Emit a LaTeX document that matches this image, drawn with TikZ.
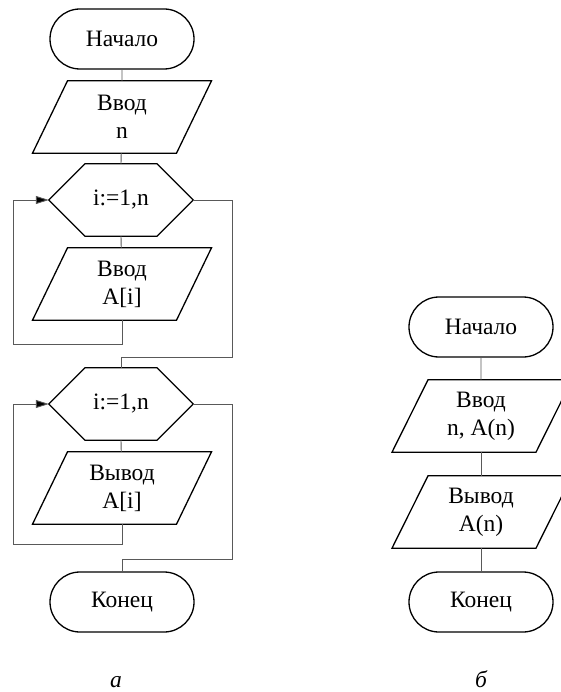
\documentclass[tikz,border=0pt]{standalone}
\usepackage{fontspec}
\setmainfont{Liberation Serif}
\usetikzlibrary{shapes.misc,arrows.meta}

\tikzset{
  outl/.style={draw=black, line width=1.3pt, line join=miter},
  conn/.style={draw=black!65, line width=0.9pt},
  loopin/.style={conn, -{Triangle[length=13pt,width=8pt,fill=black]}},
  txt/.style={font=\fontsize{23.5}{28}\selectfont, align=center, inner sep=0pt},
  terminal/.style={txt, outl, rounded rectangle, minimum width=144pt, minimum height=60pt},
  iobox/.style={txt, minimum width=108pt, minimum height=72pt},
  loopbox/.style={txt, minimum width=144pt, minimum height=72pt},
  caption/.style={font=\fontsize{23.5}{28}\selectfont\itshape, inner sep=0pt, anchor=base}
}

\begin{document}
\begin{tikzpicture}[x=1pt, y=-1pt]
  \useasboundingbox (0,0) rectangle (561,692);
  \clip (0,0) rectangle (561,692);

  % ---------- scheme (a): two loops ----------
  \node[terminal] (startA) at (122,39) {Начало};
  \node[iobox] (inN) at (122,117) {Ввод\\n};
  \node[loopbox] (loop1) at (121,200) {i:=1,n};
  \node[iobox] (inA) at (122,284) {Ввод\\A[i]};
  \node[loopbox] (loop2) at (121,404) {i:=1,n};
  \node[iobox] (outA) at (122,488) {Вывод\\A[i]};
  \node[terminal] (endA) at (122,602) {Конец};

  % parallelogram outlines
  \foreach \n in {inN,inA,outA}{
    \draw[outl] ([xshift=-54.5pt]\n.north) -- ([xshift=89.5pt]\n.north)
      -- ([xshift=54.5pt]\n.south) -- ([xshift=-89.5pt]\n.south) -- cycle;
  }
  % loop-header hexagons
  \foreach \n in {loop1,loop2}{
    \draw[outl] (\n.west) -- ([xshift=-36pt]\n.north) -- ([xshift=36pt]\n.north)
      -- (\n.east) -- ([xshift=36pt]\n.south) -- ([xshift=-36pt]\n.south) -- cycle;
  }

  \coordinate (back1) at (13,344);
  \coordinate (exit1) at (232,357);
  \coordinate (back2) at (13,544);
  \coordinate (exit2) at (232,559);

  \draw[conn] (startA) -- (inN);
  \draw[conn] (inN) -- (loop1.north);
  \draw[conn] (loop1.south) -- (inA);
  \draw[loopin] (inA.south) |- (back1) |- (loop1.west);
  \draw[conn] (loop1.east) -| (exit1) -| (loop2.north);
  \draw[conn] (loop2.south) -- (outA);
  \draw[loopin] (outA.south) |- (back2) |- (loop2.west);
  \draw[conn] (loop2.east) -| (exit2) -| (endA.north);

  % ---------- scheme (b): linear ----------
  \node[terminal] (startB) at (481,327) {Начало};
  \node[iobox] (inB) at (481,416) {Ввод\\n, A(n)};
  \node[iobox] (outB) at (481,512) {Вывод\\A(n)};
  \node[terminal] (endB) at (481,602) {Конец};

  \foreach \n in {inB,outB}{
    \draw[outl] ([xshift=-53pt]\n.north) -- ([xshift=91pt]\n.north)
      -- ([xshift=55pt]\n.south) -- ([xshift=-89pt]\n.south) -- cycle;
  }

  \draw[conn] (startB) -- (inB);
  \draw[conn] (inB) -- (outB);
  \draw[conn] (outB) -- (endB);

  % captions
  \node[caption] (capA) at (116,687) {а};
  \node[caption] (capB) at (481,687) {б};
\end{tikzpicture}
\end{document}
